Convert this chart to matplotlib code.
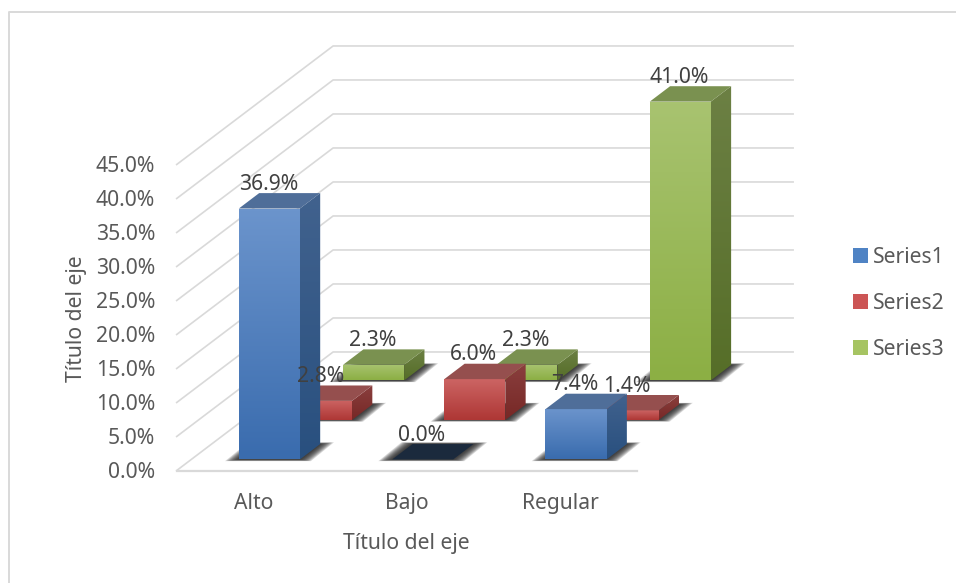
import numpy as np
import matplotlib
matplotlib.use('Agg')
import matplotlib.pyplot as plt
from matplotlib.colors import LinearSegmentedColormap
from matplotlib.lines import Line2D
from matplotlib.patches import Patch, Polygon

plt.rcParams['font.family'] = ['Noto Sans', 'DejaVu Sans']

categories = ['Alto', 'Bajo', 'Regular']
series_names = ['Series1', 'Series2', 'Series3']
series1 = [36.9, 0.0, 7.4]
series2 = [2.8, 6.0, 1.4]
series3 = [2.3, 2.3, 41.0]
tick_values = [0, 5, 10, 15, 20, 25, 30, 35, 40, 45]

# fake 3D: one row of depth moves a point right (category units) and up (percent units)
DEPTH_X = 0.34
DEPTH_Y = 5.81
BAR_LEFT = 0.31
BAR_W = 0.398
BAR_FRONT = 0.28
BAR_DEPTH = 0.39

# front top, front bottom, side top, side bottom, top face, legend
styles = [
    ('#6B94CC', '#3A6CAE', '#41628E', '#29507F', '#4F6E99', '#4F83C4'),
    ('#CC6463', '#AE3735', '#8A3F3E', '#772826', '#954F4E', '#CC5555'),
    ('#A8C370', '#8CAF44', '#6C8044', '#566E28', '#7A9150', '#A6C462'),
]
ZERO_TOP = '#1B2A3D'
GRID = '#D9D9D9'
TEXT = '#595959'
LABEL = '#404040'

fig = plt.figure(figsize=(9.56, 5.83), dpi=100)
ax = fig.add_axes([176.7 / 956, 112.5 / 583, 460 / 956, 306 / 583])


def proj(x, depth, v):
    return x + depth * DEPTH_X, v + depth * DEPTH_Y


def gradient_face(verts, top, bottom, z):
    xs = [p[0] for p in verts]
    ys = [p[1] for p in verts]
    cmap = LinearSegmentedColormap.from_list('face', [top, bottom])
    im = ax.imshow(np.linspace(0, 1, 64).reshape(-1, 1), cmap=cmap, aspect='auto',
                   extent=(min(xs), max(xs), min(ys), max(ys)), origin='upper',
                   interpolation='bilinear', zorder=z)
    im.set_clip_path(Polygon(verts, closed=True, transform=ax.transData))
    im.set_clip_box(fig.bbox)


def draw_shadow(x, row, z):
    front = row + BAR_FRONT
    back = front + BAR_DEPTH
    layers = 10
    for k in range(layers):
        sp = 0.09 * (1 - k / layers)
        low = -0.25 * (1 - k / layers)
        pts = [proj(x - sp, front, low), proj(x + BAR_W + sp * 0.8, front, low),
               proj(x + BAR_W + sp, back, -low), proj(x - sp * 0.8, back, -low)]
        ax.add_patch(Polygon(pts, closed=True, fc='#202020', ec='none', alpha=0.17,
                             clip_on=False, zorder=z))


def draw_bar(x, row, value, style, z):
    front = row + BAR_FRONT
    back = front + BAR_DEPTH
    draw_shadow(x, row, z)
    x2 = x + BAR_W
    if value > 0:
        face = [proj(x, front, 0), proj(x2, front, 0), proj(x2, front, value), proj(x, front, value)]
        side = [proj(x2, front, 0), proj(x2, back, 0), proj(x2, back, value), proj(x2, front, value)]
        gradient_face(face, style[0], style[1], z)
        gradient_face(side, style[2], style[3], z)
    top = [proj(x, front, value), proj(x2, front, value), proj(x2, back, value), proj(x, back, value)]
    top_color = style[4] if value > 0 else ZERO_TOP
    ax.add_patch(Polygon(top, closed=True, fc=top_color, ec='none', clip_on=False, zorder=z))


# gridlines run along the left wall and then across the back wall
for v in tick_values:
    wall = [proj(0, 0, v), proj(0, 3, v), proj(3, 3, v)]
    ax.plot([p[0] for p in wall], [p[1] for p in wall], color=GRID, lw=1.2,
            clip_on=False, solid_joinstyle='miter', zorder=1)
floor_front = [proj(0, 0, 0), proj(3, 0, 0)]
ax.plot([p[0] for p in floor_front], [p[1] for p in floor_front], color=GRID, lw=1.6,
        clip_on=False, zorder=1)

# back row first so nearer bars cover the ones behind
all_series = [series1, series2, series3]
for row in [2, 1, 0]:
    for i in range(len(categories)):
        draw_bar(i + BAR_LEFT, row, all_series[row][i], styles[row], 3)

for row, values in enumerate(all_series):
    for i, value in enumerate(values):
        front = row + BAR_FRONT
        lx = proj(i + BAR_LEFT + BAR_W / 2, front, value)[0]
        ly = proj(i + BAR_LEFT, front + BAR_DEPTH, value)[1]
        ax.annotate('%.1f%%' % value, xy=(lx, ly), xytext=(-0.7, 6.3),
                    textcoords='offset points', ha='center', va='center',
                    fontsize=15.2, color=LABEL, annotation_clip=False, zorder=10)

ax.set_xlim(0, 3)
ax.set_ylim(0, 45)
for spine in ax.spines.values():
    spine.set_visible(False)
ax.patch.set_alpha(0)
ax.set_xticks([0.5, 1.5, 2.5], categories)
ax.set_yticks(tick_values, ['%.1f%%' % v for v in tick_values])
ax.tick_params(axis='y', length=0, pad=15.5, labelsize=15.2, labelcolor=TEXT)
ax.tick_params(axis='x', length=0, pad=16, labelsize=15.2, labelcolor=TEXT)
ax.set_xlabel('Título del eje', fontsize=15.2, color=TEXT)
ax.xaxis.set_label_coords(0.5, -0.205)
ax.set_ylabel('Título del eje', fontsize=15.2, color=TEXT)
ax.yaxis.set_label_coords(-0.195, 0.495)

handles = [Patch(fc=s[5], ec='none') for s in styles]
fig.legend(handles, series_names, loc='center left', bbox_to_anchor=(853 / 956, 1 - 303.5 / 583),
           frameon=False, fontsize=15.2, labelcolor=TEXT, handlelength=0.71, handleheight=0.71,
           handletextpad=0.24, labelspacing=1.18, borderpad=0, borderaxespad=0)

# chart frame
fig.add_artist(Line2D([8.5 / 956, 8.5 / 956, 1], [0, 1 - 11.5 / 583, 1 - 11.5 / 583],
                      color=GRID, lw=1.4))

fig.savefig('out.png', dpi=100)
